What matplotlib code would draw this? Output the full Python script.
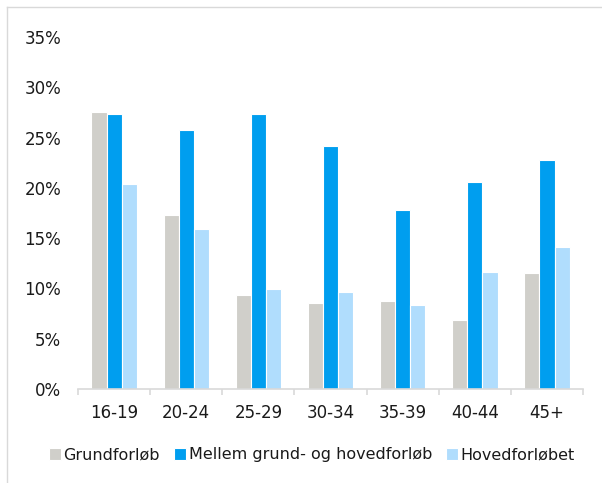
import matplotlib.pyplot as plt
import matplotlib.lines as mlines
import numpy as np
from matplotlib.ticker import FuncFormatter

groups = ["16-19", "20-24", "25-29", "30-34", "35-39", "40-44", "45+"]
grundforloeb = [27.6, 17.3, 9.3, 8.5, 8.7, 6.8, 11.5]
mellem = [27.4, 25.8, 27.4, 24.2, 17.8, 20.6, 22.8]
hovedforloebet = [20.4, 15.9, 9.9, 9.6, 8.3, 11.6, 14.1]
series_names = ["Grundforløb", "Mellem grund- og hovedforløb", "Hovedforløbet"]

colors = ["#D0CFCA", "#009EEF", "#B0DDFD"]

fig = plt.figure(figsize=(6.02, 4.83), dpi=100)
ax = fig.add_axes([0.1296, 0.195, 0.839, 0.728])

# light frame round the chart area (top and left edges only)
fig.lines.append(mlines.Line2D([0.012, 1.0], [0.985, 0.985], transform=fig.transFigure,
                               color="#D9D9D9", linewidth=1.0))
fig.lines.append(mlines.Line2D([0.012, 0.012], [0.0, 0.985], transform=fig.transFigure,
                               color="#D9D9D9", linewidth=1.0))

x = np.arange(len(groups))
width = 0.21
for i, (vals, name) in enumerate(zip([grundforloeb, mellem, hovedforloebet], series_names)):
    ax.bar(x + (i - 1) * width, vals, width, color=colors[i], edgecolor="white",
           linewidth=0.8, label=name)

ax.set_xlim(-0.5, len(groups) - 0.5)
ax.set_ylim(0, 35)
ax.set_yticks(np.arange(0, 36, 5))
ax.yaxis.set_major_formatter(FuncFormatter(lambda v, p: f"{v:.0f}%"))
ax.set_xticks(x)
ax.set_xticklabels(groups)
ax.set_xticks(np.arange(-0.5, len(groups), 1), minor=True)

for s in ["top", "right", "left"]:
    ax.spines[s].set_visible(False)
ax.spines["bottom"].set_color("#D9D9D9")
ax.spines["bottom"].set_linewidth(1.2)

ax.tick_params(axis="y", length=0, pad=12, labelsize=12, labelcolor="#1a1a1a")
ax.tick_params(axis="x", which="major", length=0, pad=11, labelsize=12, labelcolor="#1a1a1a")
ax.tick_params(axis="x", which="minor", length=4, color="#D9D9D9", width=1.2)

fig.legend(loc="center", bbox_to_anchor=(312 / 602, 1 - 455 / 483), ncol=3,
           frameon=False, fontsize=11.5, handlelength=0.75, handleheight=0.8,
           handletextpad=0.15, columnspacing=0.9, labelcolor="#1a1a1a")

fig.patch.set_facecolor("white")
fig.savefig("out.png", dpi=100)
